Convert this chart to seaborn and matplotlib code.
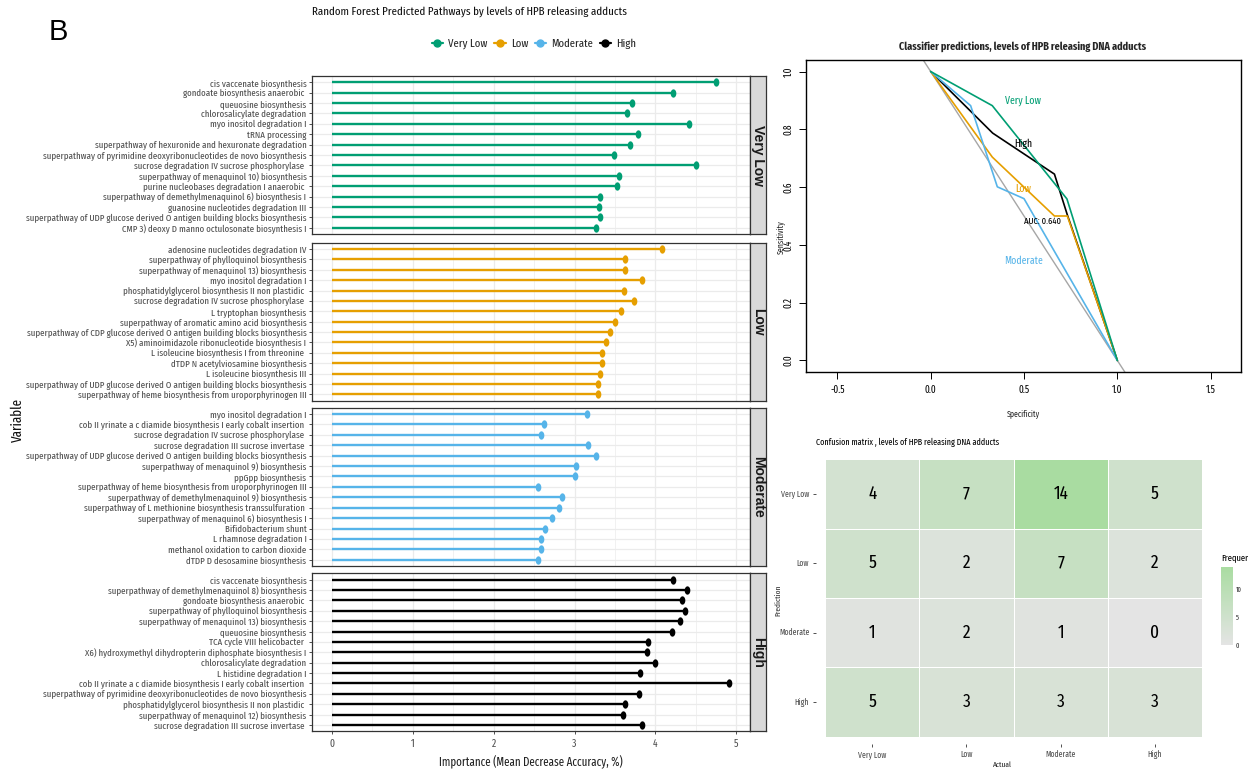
import os
import numpy as np
import pandas as pd
import matplotlib
matplotlib.use("Agg")
import matplotlib.pyplot as plt
import seaborn as sns
from matplotlib import font_manager
from matplotlib.font_manager import FontProperties
from matplotlib.colors import LinearSegmentedColormap
from matplotlib.lines import Line2D
from matplotlib.path import Path
import matplotlib.cm as cm
import matplotlib.colors as mcolors

# ---------------- data ----------------
levels = ["Very Low", "Low", "Moderate", "High"]
level_colors = ["#009E73", "#E69F00", "#56B4E9", "#000000"]

very_low_paths = [
    "cis vaccenate biosynthesis",
    "gondoate biosynthesis anaerobic ",
    "queuosine biosynthesis",
    "chlorosalicylate degradation",
    "myo inositol degradation I",
    "tRNA processing",
    "superpathway of hexuronide and hexuronate degradation",
    "superpathway of pyrimidine deoxyribonucleotides de novo biosynthesis",
    "sucrose degradation IV sucrose phosphorylase ",
    "superpathway of menaquinol 10) biosynthesis",
    "purine nucleobases degradation I anaerobic ",
    "superpathway of demethylmenaquinol 6) biosynthesis I",
    "guanosine nucleotides degradation III",
    "superpathway of UDP glucose derived O antigen building blocks biosynthesis",
    "CMP 3) deoxy D manno octulosonate biosynthesis I",
]
very_low_imp = [4.75, 4.22, 3.71, 3.65, 4.41, 3.78, 3.68, 3.49, 4.50, 3.55, 3.52, 3.32, 3.30, 3.32, 3.27]

low_paths = [
    "adenosine nucleotides degradation IV",
    "superpathway of phylloquinol biosynthesis",
    "superpathway of menaquinol 13) biosynthesis",
    "myo inositol degradation I",
    "phosphatidylglycerol biosynthesis II non plastidic ",
    "sucrose degradation IV sucrose phosphorylase ",
    "L tryptophan biosynthesis",
    "superpathway of aromatic amino acid biosynthesis",
    "superpathway of CDP glucose derived O antigen building blocks biosynthesis",
    "X5) aminoimidazole ribonucleotide biosynthesis I",
    "L isoleucine biosynthesis I from threonine ",
    "dTDP N acetylviosamine biosynthesis",
    "L isoleucine biosynthesis III",
    "superpathway of UDP glucose derived O antigen building blocks biosynthesis",
    "superpathway of heme biosynthesis from uroporphyrinogen III",
]
low_imp = [4.08, 3.63, 3.63, 3.84, 3.61, 3.74, 3.58, 3.50, 3.44, 3.39, 3.34, 3.34, 3.32, 3.29, 3.29]

moderate_paths = [
    "myo inositol degradation I",
    "cob II yrinate a c diamide biosynthesis I early cobalt insertion ",
    "sucrose degradation IV sucrose phosphorylase ",
    "sucrose degradation III sucrose invertase ",
    "superpathway of UDP glucose derived O antigen building blocks biosynthesis",
    "superpathway of menaquinol 9) biosynthesis",
    "ppGpp biosynthesis",
    "superpathway of heme biosynthesis from uroporphyrinogen III",
    "superpathway of demethylmenaquinol 9) biosynthesis",
    "superpathway of L methionine biosynthesis transsulfuration ",
    "superpathway of menaquinol 6) biosynthesis I",
    "Bifidobacterium shunt",
    "L rhamnose degradation I",
    "methanol oxidation to carbon dioxide",
    "dTDP D desosamine biosynthesis",
]
moderate_imp = [3.15, 2.62, 2.59, 3.17, 3.27, 3.02, 3.00, 2.55, 2.85, 2.81, 2.72, 2.63, 2.59, 2.58, 2.55]

high_paths = [
    "cis vaccenate biosynthesis",
    "superpathway of demethylmenaquinol 8) biosynthesis",
    "gondoate biosynthesis anaerobic ",
    "superpathway of phylloquinol biosynthesis",
    "superpathway of menaquinol 13) biosynthesis",
    "queuosine biosynthesis",
    "TCA cycle VIII helicobacter ",
    "X6) hydroxymethyl dihydropterin diphosphate biosynthesis I",
    "chlorosalicylate degradation",
    "L histidine degradation I",
    "cob II yrinate a c diamide biosynthesis I early cobalt insertion ",
    "superpathway of pyrimidine deoxyribonucleotides de novo biosynthesis",
    "phosphatidylglycerol biosynthesis II non plastidic ",
    "superpathway of menaquinol 12) biosynthesis",
    "sucrose degradation III sucrose invertase ",
]
high_imp = [4.22, 4.39, 4.33, 4.37, 4.30, 4.21, 3.91, 3.90, 4.00, 3.81, 4.91, 3.80, 3.62, 3.60, 3.84]

# ROC curves (specificity-axis value, sensitivity)
roc_very_low_x = [0.0, 0.33, 0.73, 1.0]
roc_very_low_y = [1.0, 0.882, 0.559, 0.0]
roc_low_x = [0.0, 0.33, 0.663, 0.732, 1.0]
roc_low_y = [1.0, 0.704, 0.50, 0.50, 0.0]
roc_moderate_x = [0.0, 0.214, 0.357, 0.50, 1.0]
roc_moderate_y = [1.0, 0.882, 0.601, 0.56, 0.0]
roc_high_x = [0.0, 0.332, 0.663, 0.732, 1.0]
roc_high_y = [1.0, 0.787, 0.645, 0.504, 0.0]
auc_text = "AUC: 0.640"

# Confusion matrix (rows = Prediction, cols = Actual)
cm_very_low = [4, 7, 14, 5]
cm_low = [5, 2, 7, 2]
cm_moderate = [1, 2, 1, 0]
cm_high = [5, 3, 3, 3]

# ---------------- style / fonts ----------------
sns.set_theme(style="white")
plt.rcParams["font.family"] = ["Liberation Sans", "DejaVu Sans"]


def _w(f):
    if isinstance(f.weight, int):
        return f.weight
    return font_manager.weight_dict.get(f.weight, 400)


def find_condensed(bold):
    # prefer the most compressed regular-style sans available
    prefs = ["extracondensed", "narrow", "condensed"]
    best, best_rank = None, 99
    for f in font_manager.fontManager.ttflist:
        base = os.path.basename(f.fname).lower()
        key = (f.name + " " + base).lower().replace(" ", "").replace("-", "").replace("_", "")
        if "mono" in key or "serif" in key and "sansserif" not in key:
            continue
        if "ultra" in key or "semicondensed" in key:
            continue
        if not any(p in key for p in prefs) and str(f.stretch) not in ("condensed", "extra-condensed"):
            continue
        if f.style != "normal" or "italic" in base or "oblique" in base:
            continue
        if any(b in base for b in ["light", "thin", "medium", "black", "extrabold", "semibold"]):
            continue
        w = _w(f)
        if bold and w < 600:
            continue
        if not bold and not (350 <= w <= 500):
            continue
        rank = 50
        for i, p in enumerate(prefs):
            if p in key:
                rank = i
                break
        if rank < best_rank:
            best, best_rank = f.fname, rank
    return best


REG = find_condensed(False)
BLD = find_condensed(True)


def F(size, bold=False):
    path = BLD if bold else REG
    if path is None:
        fp = FontProperties(family=["Liberation Sans", "DejaVu Sans"],
                            weight="bold" if bold else "normal")
    else:
        fp = FontProperties(fname=path)
        if bold and BLD is None:
            fp.set_weight("bold")
    fp.set_size(size)
    return fp


W, H = 1248, 771
fig = plt.figure(figsize=(W / 100, H / 100), dpi=100)
fig.patch.set_facecolor("white")
R = fig.canvas.get_renderer()


def fit(s, target_px, bold=False):
    t = fig.text(0, 0, s.strip(), fontproperties=F(10, bold))
    w = t.get_window_extent(R).width
    t.remove()
    return 10 * target_px / w


def add_ax(x0, y0, x1, y1):
    return fig.add_axes([x0 / W, 1 - y1 / H, (x1 - x0) / W, (y1 - y0) / H])


# font sizes fitted to the reference text widths
sz_ylab = min(fit("superpathway of UDP glucose derived O antigen building blocks biosynthesis", 282), 9)
sz_title = fit("Random Forest Predicted Pathways by levels of HPB releasing adducts", 314)
sz_leg = fit("Moderate", 42)
sz_xlab = fit("Importance (Mean Decrease Accuracy, %)", 184)
sz_var = fit("Variable", 44)
sz_roc_title = fit("Classifier predictions, levels of HPB releasing DNA adducts", 247, bold=True)
sz_roc_lab = fit("Very Low", 36)
sz_auc = fit(auc_text, 36.7)
sz_roc_tick = max(fit("0.0", 9.3), 7.2)
sz_spec = fit("Specificity", 33)
sz_cm_title = fit("Confusion matrix , levels of HPB releasing DNA adducts", 184)
sz_cm_tick = fit("Moderate", 30.6)
sz_actual = fit("Actual", 19)
sz_annot = max(fit("14", 15), 13)
sz_cb = max(fit("10", 6), 5)

# ellipse marker (taller than wide)
t = np.linspace(0, 2 * np.pi, 40)
ell = Path(np.column_stack([0.68 * np.cos(t), np.sin(t)]), closed=True)

# ---------------- lollipop facets ----------------
panel_y = [(76, 234), (242.7, 400.7), (407.7, 566), (573.3, 731.3)]
all_paths = [very_low_paths, low_paths, moderate_paths, high_paths]
all_imp = [very_low_imp, low_imp, moderate_imp, high_imp]
grid_c = "#EBEBEB"
for i, lev in enumerate(levels):
    y0, y1 = panel_y[i]
    ax = add_ax(312, y0, 750, y1)
    ypos = np.arange(len(all_paths[i]))
    ax.set_xlim(-0.247, 5.17)
    ax.set_ylim(14.6, -0.6)
    for gx in np.arange(0, 5.01, 0.5):
        ax.axvline(gx, color=grid_c, lw=0.9 if gx % 1 == 0 else 0.5, zorder=0)
    for gy in ypos:
        ax.axhline(gy, color=grid_c, lw=0.9, zorder=0)
    ax.hlines(ypos, 0, all_imp[i], color=level_colors[i], lw=1.7, zorder=2)
    df = pd.DataFrame({"imp": all_imp[i], "y": ypos})
    sns.scatterplot(data=df, x="imp", y="y", ax=ax, color=level_colors[i],
                    marker=ell, s=36, edgecolor=level_colors[i], linewidth=0, zorder=3)
    ax.set_yticks(ypos)
    ax.set_yticklabels(all_paths[i], color="#4D4D4D")
    for lab in ax.get_yticklabels():
        lab.set_fontproperties(F(sz_ylab))
    ax.set_xlabel("")
    ax.set_ylabel("")
    for sp in ax.spines.values():
        sp.set_color("#333333")
        sp.set_linewidth(0.9)
    ax.tick_params(axis="y", length=2.5, width=0.6, color="#333333", pad=1.5, left=True)
    if i == 3:
        ax.set_xticks([0, 1, 2, 3, 4, 5])
        ax.set_xticklabels(["0", "1", "2", "3", "4", "5"], color="#4D4D4D")
        for lab in ax.get_xticklabels():
            lab.set_fontproperties(F(max(sz_ylab * 1.05, 7.5)))
        ax.tick_params(axis="x", length=2.5, width=0.6, color="#333333", pad=3, bottom=True)
        ax.set_xlabel("Importance (Mean Decrease Accuracy, %)", fontproperties=F(sz_xlab),
                      color="#222222", labelpad=3)
    else:
        ax.set_xticks([])
    # strip
    sax = add_ax(750, y0, 766, y1)
    sax.set_facecolor("#D9D9D9")
    sax.set_xticks([])
    sax.set_yticks([])
    for sp in sax.spines.values():
        sp.set_color("#333333")
        sp.set_linewidth(0.9)
    sax.text(0.5, 0.5, lev, rotation=270, ha="center", va="center", fontsize=10,
             fontweight="bold", color="#1A1A1A", family=["Liberation Sans", "DejaVu Sans"],
             transform=sax.transAxes)

fig.text(18 / W, 1 - 420 / H, "Variable", rotation=90, ha="center", va="center",
         fontproperties=F(sz_var), color="#111111")
fig.text(312 / W, 1 - 12 / H, "Random Forest Predicted Pathways by levels of HPB releasing adducts",
         ha="left", va="center", fontproperties=F(sz_title), color="#111111")
fig.text(58 / W, 1 - 32 / H, "B", ha="center", va="center", fontsize=21,
         family=["Liberation Sans", "DejaVu Sans"], color="black")

handles = [Line2D([0], [0], color=c, lw=1.6, marker="o", markersize=5) for c in level_colors]
fig.legend(handles, levels, loc="center", bbox_to_anchor=(534 / W, 1 - 44 / H), ncol=4,
           frameon=False, prop=F(sz_leg), handlelength=1.0, handletextpad=0.45, columnspacing=0.55)

# ---------------- ROC ----------------
rax = add_ax(806, 60, 1241, 372)
rax.set_xlim(-0.668, 1.6625)
rax.set_ylim(-0.04, 1.04)
rax.axline((0, 1), (1, 0), color="#A6A6A6", lw=1.0, zorder=1)
roc_x = [roc_very_low_x, roc_low_x, roc_moderate_x, roc_high_x]
roc_y = [roc_very_low_y, roc_low_y, roc_moderate_y, roc_high_y]
for k in [3, 1, 2, 0]:
    d = pd.DataFrame({"x": roc_x[k], "y": roc_y[k]})
    sns.lineplot(data=d, x="x", y="y", sort=False, estimator=None, ax=rax,
                 color=level_colors[k], lw=1.2, zorder=2)
rax.text(0.496, 0.90, "Very Low", color=level_colors[0], fontproperties=F(sz_roc_lab), ha="center", va="center")
rax.text(0.496, 0.749, "High", color=level_colors[3], fontproperties=F(sz_roc_lab), ha="center", va="center")
rax.text(0.496, 0.595, "Low", color=level_colors[1], fontproperties=F(sz_roc_lab), ha="center", va="center")
rax.text(0.598, 0.48, auc_text, color="black", fontproperties=F(sz_auc), ha="center", va="center")
rax.text(0.496, 0.344, "Moderate", color=level_colors[2], fontproperties=F(sz_roc_lab), ha="center", va="center")
rax.set_xticks([-0.5, 0, 0.5, 1.0, 1.5])
rax.set_xticklabels(["-0.5", "0.0", "0.5", "1.0", "1.5"], color="black")
rax.set_yticks([0, 0.2, 0.4, 0.6, 0.8, 1.0])
rax.set_yticklabels(["0.0", "0.2", "0.4", "0.6", "0.8", "1.0"], color="black",
                    rotation=90, va="center")
for lab in rax.get_xticklabels() + rax.get_yticklabels():
    lab.set_fontproperties(F(sz_roc_tick))
rax.tick_params(axis="both", length=5, width=0.7, color="black", bottom=True, left=True, pad=4)
for sp in rax.spines.values():
    sp.set_color("black")
    sp.set_linewidth(1.0)
rax.set_xlabel("")
rax.set_ylabel("")
fig.text(1023 / W, 1 - 414 / H, "Specificity", fontproperties=F(sz_spec), ha="center", va="center")
fig.text(780 / W, 1 - 237 / H, "Sensitivity", fontproperties=F(sz_spec), ha="center", va="center",
         rotation=90)
fig.text(1023 / W, 1 - 47 / H, "Classifier predictions, levels of HPB releasing DNA adducts",
         fontproperties=F(sz_roc_title, bold=True), ha="center", va="center")

# ---------------- Confusion matrix ----------------
cmat = pd.DataFrame([cm_very_low, cm_low, cm_moderate, cm_high], index=levels, columns=levels)
cmap = LinearSegmentedColormap.from_list("gg", ["#E4E4E4", "#A9DCA1"])
hax = add_ax(815.6, 452.1, 1211.4, 743.9)
sns.heatmap(cmat, ax=hax, annot=True, fmt="d", cmap=cmap, vmin=0, vmax=14, cbar=False,
            linewidths=0.6, linecolor="white", annot_kws={"color": "black"})
for tx in hax.texts:
    tx.set_fontproperties(F(sz_annot))
hax.set_xlim(-0.1, 4.1)
hax.set_ylim(4.1, -0.1)
hax.set_xticks(np.arange(4) + 0.5)
hax.set_xticklabels(levels, color="#4D4D4D", rotation=0)
hax.set_yticks(np.arange(4) + 0.5)
hax.set_yticklabels(levels, color="#4D4D4D", rotation=0)
for lab in hax.get_xticklabels() + hax.get_yticklabels():
    lab.set_fontproperties(F(sz_cm_tick))
hax.tick_params(axis="both", length=2.5, width=0.6, color="#333333", bottom=True, left=True, pad=2)
hax.set_xlabel("")
hax.set_ylabel("")
fig.text(1002 / W, 1 - 765 / H, "Actual", fontproperties=F(sz_actual), ha="center", va="center")
fig.text(778 / W, 1 - 600 / H, "Prediction", fontproperties=F(sz_actual), ha="center", va="center",
         rotation=90)
fig.text(816 / W, 1 - 442 / H, "Confusion matrix , levels of HPB releasing DNA adducts",
         fontproperties=F(sz_cm_title), ha="left", va="center", color="black")

cax = add_ax(1221, 566.7, 1232.7, 645)
sm = cm.ScalarMappable(norm=mcolors.Normalize(0, 14), cmap=cmap)
cb = fig.colorbar(sm, cax=cax, ticks=[0, 5, 10])
cb.outline.set_visible(False)
cb.ax.tick_params(length=2, width=0.8, color="white", direction="in", pad=2)
for lab in cb.ax.get_yticklabels():
    lab.set_fontproperties(F(sz_cb))
fig.text(1221 / W, 1 - 557 / H, "Frequency", fontproperties=F(sz_cm_tick * 1.1), ha="left",
         va="center", color="black")

fig.savefig("out.png", dpi=100)
